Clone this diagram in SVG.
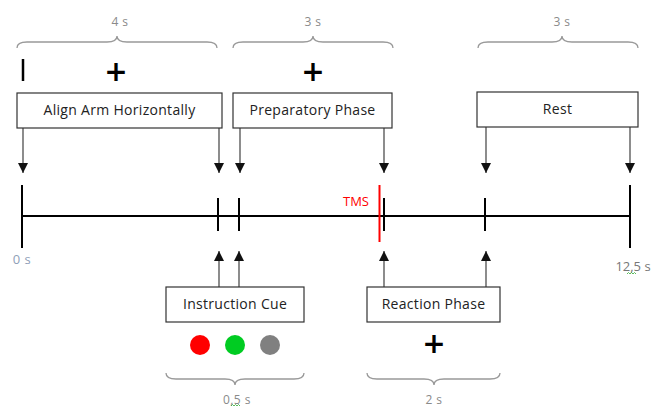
<svg xmlns="http://www.w3.org/2000/svg" width="653" height="408" viewBox="0 0 653 408">
<style>
.box{fill:#fff;stroke:#333;stroke-width:1.2}
.lbl{font-family:"Open Sans","Liberation Sans",sans-serif;font-size:14px;letter-spacing:0.3px;fill:#222;text-anchor:middle}
.dur{font-family:"Open Sans","Liberation Sans",sans-serif;font-size:12px;letter-spacing:0.5px;fill:#8a8a8a;text-anchor:middle}
.brace{fill:none;stroke:#999;stroke-width:1.3}
.arr{stroke:#404040;stroke-width:1.2;fill:none;marker-end:url(#ah)}
.tick{stroke:#000;stroke-width:2}
.plus{font-family:"DejaVu Sans",sans-serif;font-weight:bold;font-size:28px;fill:#000;text-anchor:middle}
.tl{font-family:"Open Sans","Liberation Sans",sans-serif;font-size:13px}
</style>
<defs>
<marker id="ah" viewBox="0 0 10 10" refX="10" refY="5" markerWidth="10" markerHeight="10" markerUnits="userSpaceOnUse" orient="auto">
<path d="M0,0 L10,5 L0,10 Z" fill="#111"/>
</marker>
</defs>
<rect width="653" height="408" fill="#fff"/>
<g id="braces">
<path class="brace" d="M17,48 Q17,42 27,42 L107,42 Q117,42 117,36 Q117,42 127,42 L207,42 Q217,42 217,48"/>
<path class="brace" d="M233,48 Q233,42 243,42 L303,42 Q313,42 313,36 Q313,42 323,42 L383,42 Q393,42 393,48"/>
<path class="brace" d="M478,48 Q478,42 488,42 L552,42 Q562,42 562,36 Q562,42 572,42 L628,42 Q638,42 638,48"/>
<path class="brace" d="M166,373 Q166,379 176,379 L225,379 Q235,379 235,385 Q235,379 245,379 L294,379 Q304,379 304,373"/>
<path class="brace" d="M367,373 Q367,379 377,379 L424,379 Q434,379 434,385 Q434,379 444,379 L490,379 Q500,379 500,373"/>
<text class="dur" x="120" y="26">4 s</text>
<text class="dur" x="313" y="26">3 s</text>
<text class="dur" x="562" y="26">3 s</text>
<text class="dur" x="237" y="404">0,5 s</text>
<text class="dur" x="434" y="404">2 s</text>
<path d="M231,406 l1.5,-1.5 l1.5,1.5 l1.5,-1.5 l1.5,1.5 l1.5,-1.5 l1.5,1.5" fill="none" stroke="#3a3" stroke-width="0.8"/>
</g>
<g id="connectors">
<line class="arr" x1="23" y1="127" x2="23" y2="173"/>
<line class="arr" x1="219" y1="127" x2="219" y2="173"/>
<line class="arr" x1="240" y1="127" x2="240" y2="173"/>
<line class="arr" x1="384" y1="127" x2="384" y2="173"/>
<line class="arr" x1="486" y1="127" x2="486" y2="173"/>
<line class="arr" x1="630" y1="127" x2="630" y2="173"/>
<line class="arr" x1="219" y1="288" x2="219" y2="251"/>
<line class="arr" x1="239" y1="288" x2="239" y2="251"/>
<line class="arr" x1="384" y1="288" x2="384" y2="251"/>
<line class="arr" x1="486" y1="288" x2="486" y2="251"/>
</g>
<g id="timeline">
<line x1="22" y1="216" x2="630" y2="216" stroke="#000" stroke-width="2"/>
<line class="tick" x1="22" y1="185" x2="22" y2="248"/>
<line class="tick" x1="630" y1="185" x2="630" y2="248"/>
<line class="tick" x1="218" y1="198" x2="218" y2="231"/>
<line class="tick" x1="239" y1="198" x2="239" y2="231"/>
<line class="tick" x1="384" y1="198" x2="384" y2="231"/>
<line class="tick" x1="485" y1="198" x2="485" y2="231"/>
<line x1="379.5" y1="185" x2="379.5" y2="242" stroke="#f00" stroke-width="2"/>
<text class="tl" x="369" y="206" fill="#f00" text-anchor="end">TMS</text>
<text class="tl" x="22" y="264" fill="#8fa0b8" text-anchor="middle" letter-spacing="0.5px">0 s</text>
<text class="tl" x="633" y="271" fill="#777" text-anchor="middle">12,5 s</text>
<path d="M627,274 l1.5,-1.5 l1.5,1.5 l1.5,-1.5 l1.5,1.5 l1.5,-1.5 l1.5,1.5" fill="none" stroke="#3a3" stroke-width="0.8"/>
</g>
<g id="node-align">
<rect class="box" x="17" y="93" width="205" height="35"/>
<text class="lbl" x="119.5" y="115">Align Arm Horizontally</text>
</g>
<g id="node-prep">
<rect class="box" x="233" y="93" width="159" height="35"/>
<text class="lbl" x="312.5" y="115">Preparatory Phase</text>
</g>
<g id="node-rest">
<rect class="box" x="477" y="92" width="161" height="35"/>
<text class="lbl" x="557.5" y="114">Rest</text>
</g>
<g id="node-cue">
<rect class="box" x="166" y="287" width="138" height="35"/>
<text class="lbl" x="235" y="309">Instruction Cue</text>
<circle cx="200" cy="345" r="10" fill="#ff0000"/>
<circle cx="235" cy="345" r="10" fill="#00cc22"/>
<circle cx="270" cy="345" r="10" fill="#808080"/>
</g>
<g id="node-reaction">
<rect class="box" x="367" y="287" width="133" height="35"/>
<text class="lbl" x="433.5" y="309">Reaction Phase</text>
</g>
<g id="fixation">
<line x1="23" y1="59" x2="23" y2="81" stroke="#000" stroke-width="2.5"/>
<text class="plus" x="116" y="81">+</text>
<text class="plus" x="313" y="81">+</text>
<text class="plus" x="434" y="353">+</text>
</g>
</svg>
